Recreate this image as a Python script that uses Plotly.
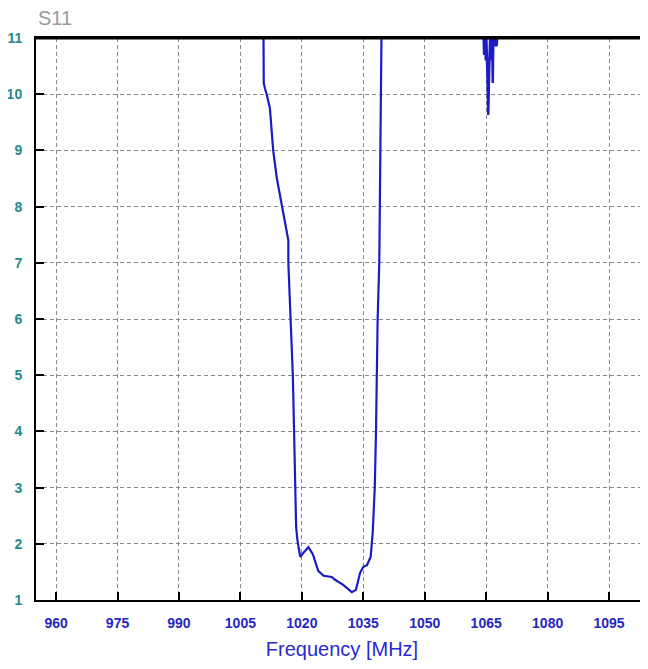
import plotly.graph_objects as go

# Main S11 curve (frequency MHz, value)
freq_main = [1010.6, 1010.6, 1010.7, 1011.0, 1011.4, 1012.2, 1013.0, 1013.9, 1015.1, 1016.3,
             1016.7, 1016.7, 1017.3, 1017.8, 1018.1, 1018.5, 1018.6, 1018.9, 1019.6, 1020.5,
             1021.6, 1022.7, 1024.0, 1025.3, 1027.3, 1028.1, 1030.1, 1032.2, 1033.2, 1034.2,
             1035.0, 1035.9, 1036.8, 1037.3, 1037.6, 1037.8, 1038.1, 1038.3, 1038.5, 1038.9,
             1039.2, 1039.5]
s11_main = [11.5, 10.5, 10.2, 10.1, 10.0, 9.75, 9.0, 8.5, 8.0, 7.55,
            7.4, 7.0, 6.0, 5.0, 4.0, 3.0, 2.3, 2.07, 1.77, 1.85,
            1.94, 1.81, 1.52, 1.43, 1.41, 1.36, 1.27, 1.14, 1.18, 1.48,
            1.59, 1.62, 1.77, 2.2, 2.6, 3.0, 4.0, 5.0, 6.0, 7.0,
            9.0, 11.5]

# Narrow dips near 1065 MHz
freq_spike = [1064.2, 1064.3, 1064.4, 1064.5, 1064.6, 1064.7, 1064.8, 1064.9, 1065.0, 1065.1,
              1065.3, 1065.5, 1065.7, 1065.9, 1066.0, 1066.1, 1066.2, 1066.3, 1066.45, 1066.6,
              1066.75, 1066.9, 1067.0, 1067.1, 1067.2, 1067.3, 1067.4, 1067.5, 1067.6, 1067.8]
s11_spike = [11.5, 10.85, 11.1, 10.7, 11.1, 10.85, 11.1, 10.6, 11.1, 10.85,
             10.35, 9.63, 10.35, 10.8, 11.1, 10.6, 11.1, 10.85, 11.1, 10.2,
             11.1, 10.85, 11.1, 10.85, 11.1, 10.85, 11.1, 10.85, 10.9, 11.5]

x_ticks = [960, 975, 990, 1005, 1020, 1035, 1050, 1065, 1080, 1095]
y_ticks = [1, 2, 3, 4, 5, 6, 7, 8, 9, 10, 11]

line_color = "#1c1cc4"
FONT = "Liberation Sans, Arial, sans-serif"

fig = go.Figure()
fig.add_trace(go.Scatter(x=freq_main, y=s11_main, mode="lines",
                         line=dict(color=line_color, width=2.2), showlegend=False))
fig.add_trace(go.Scatter(x=freq_spike, y=s11_spike, mode="lines",
                         line=dict(color=line_color, width=2.5), showlegend=False))

# page body adds ~8px offset; figure sized to fill the 648x669 window
fig.update_layout(
    width=640, height=661,
    margin=dict(l=28, r=0, t=30, b=69, autoexpand=False),
    paper_bgcolor="white", plot_bgcolor="white",
    font=dict(family=FONT),
    annotations=[dict(text="S11", xref="paper", yref="paper", x=0, y=1.0,
                      xanchor="left", yanchor="bottom", yshift=7, showarrow=False,
                      font=dict(size=20, color="#9a9a9a"))],
)
fig.update_xaxes(
    range=[955.1, 1104.5], tickvals=x_ticks, ticktext=[str(v) for v in x_ticks],
    showgrid=True, gridcolor="#8a8a8a", griddash="4px,3px", gridwidth=1,
    showline=True, linecolor="black", linewidth=2, mirror=True,
    ticks="inside", ticklen=8, tickwidth=2, tickcolor="black",
    ticklabelstandoff=9, automargin=False,
    tickfont=dict(size=14, color="#2626c0", family=FONT, weight="bold"),
    title=dict(text="Frequency [MHz]", font=dict(size=20, color="#2a2ad0"), standoff=12),
    zeroline=False,
)
fig.update_yaxes(
    range=[1, 11], tickvals=y_ticks, ticktext=[str(v) for v in y_ticks],
    showgrid=True, gridcolor="#8a8a8a", griddash="4px,3px", gridwidth=1,
    showline=True, linecolor="black", linewidth=2,
    ticks="inside", ticklen=8, tickwidth=2, tickcolor="black",
    ticklabelstandoff=9, automargin=False,
    tickfont=dict(size=14, color="#1f8a8a", family=FONT, weight="bold"),
    zeroline=False,
)
fig.add_shape(type="line", xref="paper", yref="paper", x0=0, x1=1, y0=1, y1=1,
              line=dict(color="black", width=3))

fig.write_html("out.html")
